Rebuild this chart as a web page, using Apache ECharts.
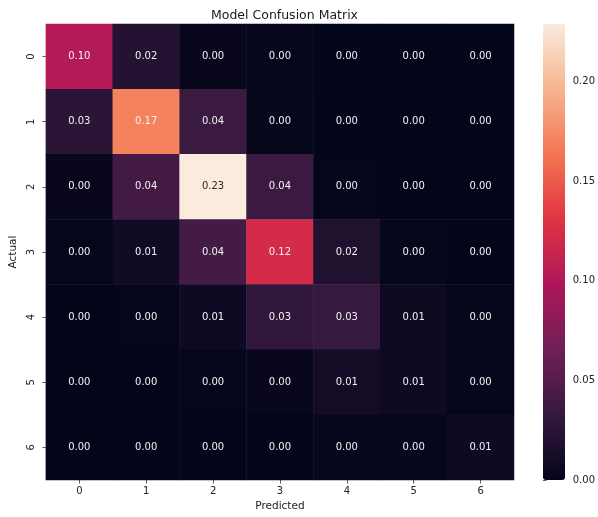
<!DOCTYPE html>
<html>
<head>
<meta charset="utf-8">
<script src="https://cdn.jsdelivr.net/npm/echarts@6/dist/echarts.min.js"></script>
<style>
  html, body { margin: 0; padding: 0; background: #ffffff; }
  #chart { width: 598px; height: 517px; }
</style>
</head>
<body>
<div id="chart"></div>
<script>
// Class labels for both axes
const predictedLabels = ['0', '1', '2', '3', '4', '5', '6'];
const actualLabels = ['0', '1', '2', '3', '4', '5', '6'];

// Normalised confusion matrix, one array per actual class (rows), columns = predicted class
const row0 = [0.102, 0.021, 0.004, 0.001, 0.000, 0.000, 0.000];
const row1 = [0.026, 0.170, 0.036, 0.002, 0.000, 0.000, 0.000];
const row2 = [0.003, 0.040, 0.229, 0.036, 0.001, 0.000, 0.000];
const row3 = [0.001, 0.010, 0.041, 0.122, 0.019, 0.002, 0.000];
const row4 = [0.000, 0.001, 0.008, 0.030, 0.033, 0.006, 0.002];
const row5 = [0.000, 0.000, 0.001, 0.003, 0.011, 0.008, 0.002];
const row6 = [0.000, 0.000, 0.000, 0.000, 0.002, 0.002, 0.008];
const matrixRows = [row0, row1, row2, row3, row4, row5, row6];

// Colour bar tick values
const colorbarTicks = [0, 0.05, 0.10, 0.15, 0.20];

// "rocket" colour map stops, evenly spaced from 0 to 1
const rocket = ['#03051a', '#35193e', '#701f57', '#ad1759', '#e13342', '#f37651', '#f6b48f', '#faebdd'];

const vmin = 0;
const vmax = Math.max(...matrixRows.flat());

const grid = { left: 45, top: 24, right: 84, bottom: 37 };
const plotW = 598 - grid.left - grid.right;

const cells = [];
matrixRows.forEach((row, y) => {
  row.forEach((v, x) => {
    const light = (v - vmin) / (vmax - vmin) > 0.8;
    cells.push({
      value: [x, y, v],
      label: { color: light ? '#262626' : '#f2f2f2' }
    });
  });
});

const fontFamily = 'DejaVu Sans, sans-serif';

const chart = echarts.init(document.getElementById('chart'), null, { renderer: 'canvas' });
chart.setOption({
  backgroundColor: '#ffffff',
  animation: false,
  textStyle: { fontFamily },
  title: {
    text: 'Model Confusion Matrix',
    left: grid.left + plotW / 2,
    textAlign: 'center',
    top: 4,
    textStyle: { fontSize: 12.5, fontWeight: 'normal', color: '#1a1a1a', fontFamily }
  },
  grid: [
    { left: grid.left, top: grid.top, right: grid.right, bottom: grid.bottom },
    { left: 543, top: 24, width: 22, height: 456 }
  ],
  xAxis: [
    {
      type: 'category',
      gridIndex: 0,
      data: predictedLabels,
      position: 'bottom',
      axisLine: { show: false },
      axisTick: { show: true, alignWithLabel: true, length: 3.5, lineStyle: { color: '#333', width: 0.8 } },
      axisLabel: { fontSize: 10, color: '#222', margin: 6, fontFamily },
      splitLine: { show: false },
      name: 'Predicted',
      nameLocation: 'middle',
      nameGap: 21,
      nameTextStyle: { fontSize: 10.5, color: '#222', fontFamily, verticalAlign: 'top' }
    },
    { type: 'value', gridIndex: 1, show: false, min: 0, max: 1 }
  ],
  yAxis: [
    {
      type: 'category',
      gridIndex: 0,
      data: actualLabels,
      inverse: true,
      axisLine: { show: false },
      axisTick: { show: true, alignWithLabel: true, length: 3.5, lineStyle: { color: '#333', width: 0.8 } },
      axisLabel: { fontSize: 10, color: '#222', rotate: 90, margin: 9, fontFamily },
      splitLine: { show: false },
      name: 'Actual',
      nameLocation: 'middle',
      nameGap: 22,
      nameRotate: 90,
      nameTextStyle: { fontSize: 10.5, color: '#222', fontFamily }
    },
    {
      type: 'value',
      gridIndex: 1,
      position: 'right',
      min: vmin,
      max: vmax,
      axisLine: { show: false },
      splitLine: { show: false },
      axisTick: { show: true, length: 3.5, customValues: colorbarTicks, lineStyle: { color: '#333', width: 0.8 } },
      axisLabel: {
        fontSize: 10, color: '#222', margin: 8, fontFamily,
        customValues: colorbarTicks,
        formatter: v => v.toFixed(2)
      }
    }
  ],
  visualMap: {
    type: 'continuous',
    seriesIndex: 0,
    min: vmin,
    max: vmax,
    left: 543,
    top: 24,
    itemWidth: 22,
    itemHeight: 456,
    padding: 0,
    text: null,
    calculable: false,
    hoverLink: false,
    indicatorSize: 0,
    indicatorStyle: { opacity: 0 },
    inRange: { color: rocket }
  },
  series: [
    {
      type: 'heatmap',
      xAxisIndex: 0,
      yAxisIndex: 0,
      data: cells,
      label: {
        show: true,
        fontSize: 10,
        fontFamily,
        formatter: p => p.value[2].toFixed(2)
      },
      itemStyle: { borderWidth: 0 },
      emphasis: { disabled: true }
    }
  ]
});
</script>
</body>
</html>
